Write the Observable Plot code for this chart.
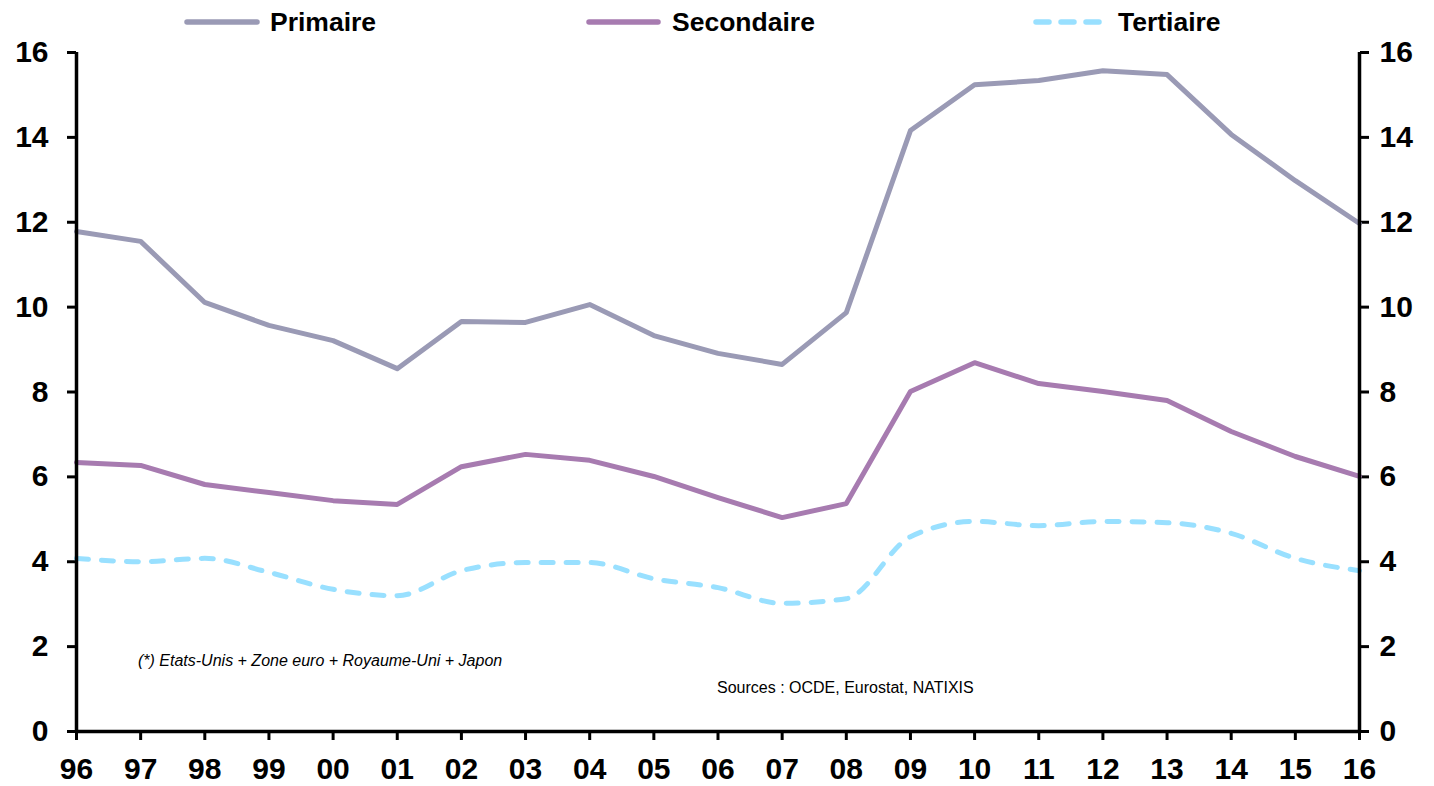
<!DOCTYPE html>
<html><head><meta charset="utf-8">
<script src="https://cdn.jsdelivr.net/npm/d3@7"></script>
<script src="https://cdn.jsdelivr.net/npm/@observablehq/plot@0.6"></script>
<style>
body{margin:0;background:#fff;font-family:"Liberation Sans",Arial,sans-serif}
#wrap{position:relative;width:1434px;height:786px;overflow:hidden}
#legend{position:absolute;left:0;top:0}
.note{position:absolute;font-size:16px;color:#000;white-space:nowrap}
</style>
</head><body>
<div id="wrap"></div>
<script>
const years = [1996,1997,1998,1999,2000,2001,2002,2003,2004,2005,2006,2007,2008,2009,2010,2011,2012,2013,2014,2015,2016];
const primaire   = [11.78,11.55,10.11,9.57,9.21,8.55,9.66,9.64,10.06,9.33,8.91,8.65,9.87,14.16,15.24,15.34,15.57,15.48,14.07,12.98,11.97];
const secondaire = [6.34,6.27,5.82,5.63,5.44,5.35,6.24,6.53,6.39,6.01,5.51,5.04,5.37,8.01,8.69,8.20,8.01,7.80,7.07,6.48,6.01];
const tertiaire  = [4.08,4.00,4.08,3.75,3.35,3.20,3.79,3.98,3.98,3.60,3.39,3.02,3.13,4.59,4.95,4.85,4.95,4.92,4.67,4.08,3.79];
const yTicks = [0,2,4,6,8,10,12,14,16];
const seriesNames = ["Primaire","Secondaire","Tertiaire"];
const colors = ["#9a9ab5","#a77bb0","#99e0ff"];
const noteText = "(*) Etats-Unis + Zone euro + Royaume-Uni + Japon";
const sourceText = "Sources : OCDE, Eurostat, NATIXIS";

const rows = s => years.map((y,i)=>({year:y, value:s[i]}));
const font = "Liberation Sans, Arial, sans-serif";

const chart = Plot.plot({
  width:1434, height:786,
  marginLeft:76, marginRight:75, marginTop:52, marginBottom:55,
  style:{fontFamily:font, background:"#fff", overflow:"visible"},
  x:{type:"linear", domain:[1996,2016]},
  y:{domain:[0,16]},
  marks:[
    Plot.axisX({ticks:years, tickFormat:d=>String(d).slice(2), tickSize:9, tickPadding:17, strokeWidth:3, fontSize:30, fontWeight:"bold", fill:"#000", label:null}),
    Plot.axisY({anchor:"left", ticks:yTicks, tickSize:9, tickPadding:19, strokeWidth:3, fontSize:30, fontWeight:"bold", fill:"#000", label:null}),
    Plot.axisY({anchor:"right", ticks:yTicks, tickSize:9, tickPadding:11, strokeWidth:3, fontSize:30, fontWeight:"bold", fill:"#000", label:null}),
    Plot.line(rows(primaire), {x:"year", y:"value", stroke:colors[0], strokeWidth:5}),
    Plot.line(rows(secondaire), {x:"year", y:"value", stroke:colors[1], strokeWidth:5}),
    Plot.line(rows(tertiaire), {x:"year", y:"value", stroke:colors[2], strokeWidth:5, strokeDasharray:"12,13", strokeLinecap:"round", curve:"monotone-x"}),
    Plot.ruleY([0], {stroke:"#000", strokeWidth:3.5}),
    Plot.ruleX([1996,2016], {stroke:"#000", strokeWidth:3.5})
  ]
});
const wrap = document.getElementById("wrap");
wrap.appendChild(chart);

// legend
const ns = "http://www.w3.org/2000/svg";
const leg = document.createElementNS(ns,"svg");
leg.setAttribute("id","legend"); leg.setAttribute("width","1434"); leg.setAttribute("height","45");
const legX = [[187,257,270],[589,658,672],[1036,1102,1118]];
seriesNames.forEach((name,i)=>{
  const l = document.createElementNS(ns,"line");
  l.setAttribute("x1",legX[i][0]); l.setAttribute("x2",legX[i][1]);
  l.setAttribute("y1",22); l.setAttribute("y2",22);
  l.setAttribute("stroke",colors[i]); l.setAttribute("stroke-width",5.5);
  l.setAttribute("stroke-linecap","round");
  if(i===2) l.setAttribute("stroke-dasharray","13,12");
  leg.appendChild(l);
  const t = document.createElementNS(ns,"text");
  t.setAttribute("x",legX[i][2]); t.setAttribute("y",31);
  t.setAttribute("font-size",26.5); t.setAttribute("font-weight","bold");
  t.setAttribute("font-family",font);
  t.textContent = name;
  leg.appendChild(t);
});
wrap.appendChild(leg);

const n1 = document.createElement("div");
n1.className="note"; n1.style.left="138px"; n1.style.top="652px"; n1.style.fontStyle="italic";
n1.textContent = noteText; wrap.appendChild(n1);
const n2 = document.createElement("div");
n2.className="note"; n2.style.left="717px"; n2.style.top="679px";
n2.textContent = sourceText; wrap.appendChild(n2);
</script>
</body></html>
